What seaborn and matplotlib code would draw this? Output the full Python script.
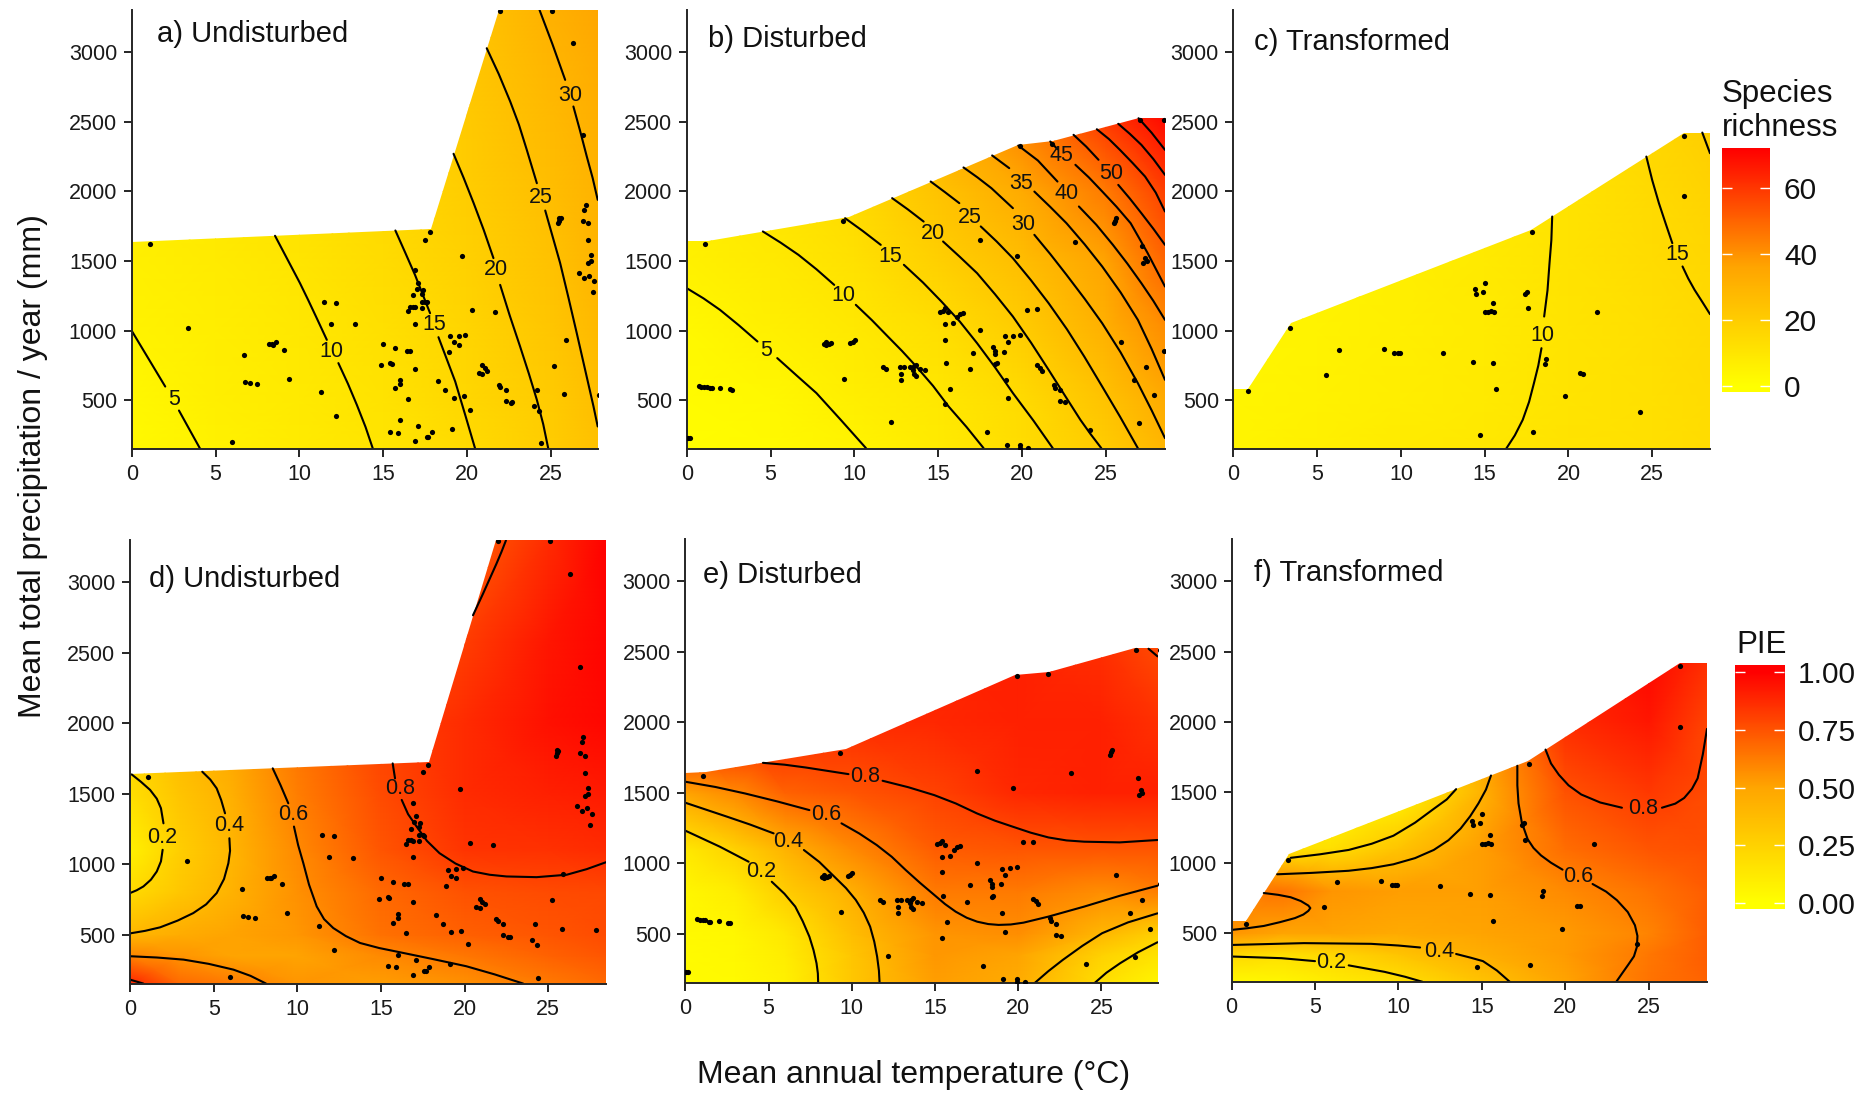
import numpy as np
import matplotlib
matplotlib.use('Agg')
import matplotlib.pyplot as plt
from matplotlib.colors import LinearSegmentedColormap
from matplotlib.patches import Polygon
import seaborn as sns

# Sites (same ones in both rows of a column)
undist_temp = [1.09,3.38,5.99,6.68,6.78,7.08,7.5,8.2,8.35,8.45,8.6,9.09,9.39,11.28,11.5,12.2,11.9,12.2,13.3,15.0,14.9,15.4,15.5,15.7,15.4,15.9,15.7,16.0,16.0,16.0,16.4,16.6,16.5,16.9,16.9,17.1,17.6,17.7,17.9,16.9,16.5,16.6,16.8,16.9,17.3,17.3,17.5,17.6,16.8,17.0,17.35,17.1,17.3,16.9,17.5,17.8,19.7,20.3,21.7,19.0,19.5,19.9,19.2,19.5,18.9,18.3,18.7,19.2,19.8,20.2,19.1,20.7,20.9,20.9,21.05,21.2,21.9,22.0,22.3,22.3,22.6,22.7,24.0,24.2,24.3,24.4,25.2,25.8,25.9,25.45,25.5,25.6,25.5,26.9,27.2,27.2,27.0,27.1,27.4,27.2,27.4,26.7,27.0,27.3,27.6,27.5,26.9,26.3,25.1,22.0,27.85]
undist_prec = [1621,1023,201,823,634,624,617,904,904,899,916,861,653,560,1207,1200,1050,388,1045,904,751,770,760,875,275,268,586,646,617,359,858,858,512,729,211,318,240,240,271,1050,1140,1172,1172,1167,1162,1207,1207,1203,1253,1296,1289,1341,1265,1434,1654,1705,1533,1150,1136,961,964,973,916,899,847,639,576,519,529,431,292,694,691,751,734,715,612,596,576,495,483,486,459,574,424,196,746,543,933,1771,1790,1805,1807,1790,1771,1650,1865,1901,1540,1485,1497,1411,1380,1396,1356,1279,2402,3060,3290,3296,536]

dist_temp = [1.07,0.17,0.06,0.7,0.87,1.04,1.2,1.4,1.5,2.0,2.55,2.7,8.2,8.33,8.5,8.6,8.33,9.77,9.9,10.04,9.38,9.3,11.7,11.9,12.2,12.7,12.8,12.8,12.96,13.3,13.55,13.7,13.5,13.55,13.67,13.9,14.2,15.4,15.4,15.4,15.5,15.7,15.1,15.3,15.4,15.6,15.9,16.15,16.3,16.5,16.9,17.1,17.5,17.5,17.9,18.3,18.4,18.4,18.4,18.5,18.95,19.04,19.0,19.2,19.2,19.5,19.9,19.1,19.9,19.9,20.4,19.7,20.3,20.9,20.9,21.07,21.2,19.9,21.8,21.9,22.0,22.3,22.3,22.6,23.2,24.1,25.5,25.57,25.63,25.9,26.7,27.0,27.06,27.2,27.25,27.36,27.46,27.44,27.9,28.5,28.5]
dist_prec = [1621,228,228,603,600,600,596,588,586,593,581,576,904,897,902,911,916,909,918,933,653,1786,741,727,345,739,691,648,739,739,744,756,720,691,677,725,720,474,1045,937,768,584,1138,1143,1162,1131,1054,1098,1119,1126,729,844,1004,1654,273,882,856,830,763,772,851,648,961,916,517,966,973,182,182,158,158,1533,1150,1155,751,734,715,2328,2340,612,593,572,495,486,1640,290,1771,1790,1807,918,646,340,2510,1609,1485,1520,1497,739,536,856,2510]

trans_temp = [0.88,3.36,5.54,6.29,8.98,9.6,9.8,9.94,12.5,14.3,14.4,14.5,14.87,15.0,14.7,15.03,15.2,15.35,15.56,15.5,15.5,15.7,17.43,17.5,17.56,17.8,17.9,18.66,18.6,19.8,20.7,20.87,21.7,24.3,26.9,26.9]
trans_prec = [567,1023,684,863,870,839,839,839,837,775,1298,1265,1279,1346,256,1136,1136,1140,1131,1198,772,584,1265,1281,1160,1705,273,801,765,531,694,691,1136,421,2400,1963]

# Outline of the sampled climate space
undist_hull = [(0,150),(0,1640),(17.86,1728),(21.9,3300),(28.6,3300),(28.6,150)]
dist_hull = [(0,150),(0,1642),(1.24,1647),(9.66,1814),(19.8,2333),(21.85,2359),(27,2524),(28.6,2524),(28.6,150)]
trans_hull = [(0,150),(0,584),(0.88,584),(3.46,1059),(17.75,1724),(26.87,2421),(28.6,2421),(28.6,150)]

# Surface: rows go with the precipitation grid, columns with the temperature grid
rich_t = [0,5,10,15,20,25,28.6]
rich_p = [150,500,1000,1500,2000,2600,3300]
rich_a = [[2.5,5.5,8,10.5,14.5,20.2,26],
          [3,6.2,8.5,11,15.8,21,27],
          [5,7,9,12.5,17,23,29],
          [6,8,10.5,13.8,18.3,24.3,31],
          [7,9,12,15,20,26,31.5],
          [8,10,13,16,21.5,28,33],
          [9,11,14,18,23,31,36]]
rich_b = [[1,2,4.5,8,13.5,20.5,29],
          [1.5,3,6.5,9.3,14.6,24,33.5],
          [3,6,8.8,13,20,31,41],
          [5.8,8.5,12,19,26,36,50],
          [7,10,15,24,33.5,45,58],
          [8,12,18,29,45,62,75]]
rich_c = [[4,6,8,9.5,11,12.5,14],
          [4,5.5,7,8.5,10.7,12.5,14],
          [4,5,6.5,8.3,10.8,13,14.7],
          [4,5,6.5,8.5,11,13.8,16],
          [4,5,6.5,8.5,11.5,15,17.5],
          [4,5,6.5,8.5,12,16.5,20.5]]

pie_t = [0,3,6,10,15,20,25,28.6]
pie_p = [150,350,500,800,1100,1500,2000,2600,3300]
pie_d = [[.9,.68,.63,.55,.52,.56,.63,.68],
         [.6,.55,.5,.5,.58,.64,.7,.74],
         [.4,.46,.5,.54,.66,.71,.74,.77],
         [.2,.32,.42,.56,.68,.75,.77,.78],
         [.08,.27,.4,.58,.74,.84,.85,.87],
         [.18,.33,.43,.62,.77,.87,.9,.92],
         [.25,.4,.5,.65,.8,.87,.95,.98],
         [.3,.4,.5,.6,.7,.81,.93,.99],
         [.3,.4,.5,.6,.65,.7,.87,1.0]]
pie_e = [[.02,.03,.08,.31,.52,.46,.18,.05],
         [.02,.04,.1,.32,.54,.5,.25,.15],
         [.03,.05,.13,.36,.55,.57,.4,.25],
         [.05,.1,.28,.44,.63,.63,.57,.62],
         [.13,.25,.42,.58,.72,.74,.74,.74],
         [.5,.58,.7,.74,.8,.88,.9,.9],
         [1.0,.95,.9,.87,.88,.9,.9,.85],
         [.9,.9,.9,.9,.9,.9,.85,.76]]
pie_f = [[.03,.05,.1,.17,.33,.5,.65,.7],
         [.22,.18,.22,.33,.45,.53,.64,.72],
         [.55,.5,.5,.47,.5,.53,.6,.72],
         [.6,.65,.55,.52,.52,.58,.65,.72],
         [.4,.15,.18,.33,.52,.67,.74,.76],
         [0,0,0,.05,.42,.75,.83,.77],
         [0,0,0,.05,.5,.87,.93,.79],
         [0,0,0,.05,.5,.9,1.0,.88]]

# Contour lines, cut where a label sits
lines_a = [[(0,1000),(1.0,800),(2.0,600)],[(2.82,428),(3.5,280),(4.1,150)],
           [(8.55,1681),(9.3,1510),(10.04,1341),(10.55,1215),(11.04,1090),(11.64,935)],[(12.33,768),(12.9,620),(13.43,469),(13.95,310),(14.4,150)],
           [(15.73,1719),(16.3,1565),(16.9,1401),(17.8,1126)],[(18.3,954),(18.8,795),(19.3,636),(19.9,395),(20.5,150)],
           [(19.2,2269),(19.8,2097),(20.4,1915),(21.0,1723),(21.58,1521)],[(21.98,1329),(22.55,1110),(23.17,887),(23.7,690),(24.17,505),(24.55,330),(24.86,150)],
           [(21.18,3026),(21.9,2840),(22.58,2644),(23.1,2478),(23.57,2297),(24.17,2058)],[(24.67,1862),(25.1,1680),(25.56,1485),(26.05,1240),(26.55,983),(27.05,720),(27.55,457),(27.8,314)],
           [(24.33,3300),(25.1,3055),(25.86,2799)],[(26.35,2608),(26.75,2433),(27.15,2249),(27.5,2095),(27.8,1939)]]
labels_a = [('5',2.53,505),('10',11.94,851),('15',18.06,1043),('20',21.74,1437),('25',24.4,1958),('30',26.15,2684)]

lines_b = [[(0,1305),(1.0,1232),(1.98,1150),(3.1,1040),(4.22,923)],[(5.4,804),(6.55,680),(7.74,553),(9.2,360),(10.7,158)],
           [(4.54,1712),(5.6,1632),(6.67,1544),(7.75,1440),(8.8,1329)],[(10.09,1186),(11.05,1076),(12.0,959),(12.85,855),(13.7,744),(14.7,605),(15.63,457),(16.7,310),(17.72,158)],
           [(9.45,1807),(10.5,1716),(11.58,1616)],[(12.96,1473),(14.1,1346),(15.2,1210),(16.3,1066),(17.33,911),(18.4,738),(19.47,553),(20.7,355),(21.85,158)],
           [(12.26,1951),(13.2,1870),(14.14,1783)],[(15.3,1640),(16.3,1530),(17.33,1413),(18.4,1262),(19.47,1102),(20.55,915),(21.6,720),(22.55,540),(23.5,361),(24.1,260),(24.75,158)],
           [(14.56,2070),(15.4,1995),(16.27,1915)],[(17.55,1748),(18.5,1640),(19.47,1520),(20.55,1362),(21.6,1198),(22.7,1010),(23.73,815),(24.8,600),(25.86,385),(26.93,158)],
           [(16.52,2171),(17.35,2100),(18.19,2022),(19.47,1879)],[(20.75,1688),(21.7,1550),(22.67,1401),(23.75,1230),(24.8,1054),(25.9,845),(26.93,624),(27.75,430),(28.55,230)],
           [(18.23,2257),(19.25,2166)],[(20.75,1998),(21.7,1888),(22.67,1771),(23.75,1620),(24.8,1461),(25.9,1275),(26.93,1078),(27.75,870),(28.55,648)],
           [(19.79,2328),(20.96,2221),(22.13,2070)],[(23.41,1891),(24.45,1760),(25.44,1616),(26.3,1482),(27.14,1341),(27.85,1215),(28.55,1078)],
           [(21.7,2357),(22.13,2302)],[(23.2,2190),(24.0,2100),(24.8,1999),(25.65,1890),(26.5,1771),(27.5,1560),(28.55,1317)],
           [(23.09,2405),(23.85,2320),(24.58,2226)],[(25.76,2046),(26.45,1948),(27.14,1843),(27.85,1732),(28.55,1616)],
           [(24.48,2445),(25.2,2375),(25.86,2297),(26.6,2205),(27.36,2106),(28,1990),(28.55,1855)],
           [(25.76,2484),(26.45,2412),(27.14,2333),(27.85,2232),(28.55,2118)],
           [(26.97,2524),(27.75,2420),(28.55,2297)]]
labels_b = [('5',4.75,858),('10',9.34,1250),('15',12.17,1532),('20',14.67,1700),('25',16.9,1815),('30',20.06,1760),
            ('35',19.94,2054),('40',22.67,1987),('45',22.39,2254),('50',25.33,2130)]

lines_c = [[(19.03,1819),(18.98,1650),(18.87,1485),(18.75,1290),(18.55,1102)],[(18.39,875),(18.2,750),(17.94,624),(17.65,490),(17.27,361),(16.8,250),(16.26,150)],
           [(24.65,2249),(25.0,2080),(25.4,1915),(25.8,1770),(26.2,1628)],[(26.81,1461),(27.15,1375),(27.53,1293),(28.0,1205),(28.45,1119)],
           [(27.99,2421),(28.45,2273)]]
labels_c = [('10',18.47,964),('15',26.47,1544)]

lines_d = [[(0.1,1637),(0.65,1585),(1.2,1527),(1.6,1465),(1.85,1397),(2.0,1290)],[(1.95,1102),(1.85,1020),(1.6,948),(1.25,890),(0.8,842),(0.4,815),(0,795)],
           [(4.32,1656),(4.8,1600),(5.18,1538),(5.45,1455),(5.68,1361)],[(5.94,1184),(5.98,1095),(5.88,1007),(5.62,895),(5.18,795),(4.55,715),(3.78,653),(2.85,600),(1.8,552),(0.9,527),(0,509)],
           [(8.53,1680),(9.0,1560),(9.46,1432)],[(9.8,1267),(10.05,1135),(10.36,1007),(10.7,855),(11.16,700),(11.6,610),(12.15,547),(12.9,490),(13.75,441),(14.9,405),(16.14,375),(18.1,327),(20.1,276),(21.8,218),(23.5,153)],
           [(0,347),(1.6,338),(3.2,323),(4.7,293),(6.18,252),(7.2,208),(8.13,153)],
           [(0,181),(0.8,153)],
           [(15.7,1715),(15.84,1609)],[(16.24,1456),(16.62,1355),(17.13,1267),(17.75,1165),(18.5,1078),(19.45,1005),(20.5,948),(21.5,925),(22.5,913),(24.3,908),(26.1,925),(27.3,965),(28.45,1014)],
           [(22.47,3297),(22.2,3215),(21.9,3131),(21.5,3025),(21.1,2919),(20.5,2766)]]
labels_d = [('0.2',1.93,1189),('0.4',5.94,1274),('0.6',9.76,1350),('0.8',16.17,1534)]

lines_e = [[(4.66,1713),(5.95,1700),(7.23,1680),(9.8,1633)],[(11.85,1586),(13.4,1540),(14.96,1484),(16.25,1425),(17.53,1354),(18.6,1303),(19.68,1260),(20.75,1218),(21.82,1184),(22.9,1163),(23.97,1154),(26.1,1149),(28.37,1166)],
           [(0,1579),(1.8,1542),(3.58,1496),(5.5,1440),(7.45,1378)],[(9.38,1284),(10.45,1212),(11.5,1130),(12.4,1047),(13.24,953),(14.1,862),(14.96,776),(15.6,712),(16.24,658),(16.9,615),(17.53,587),(18.2,570),(18.82,564),(19.55,567),(20.32,580),(21.82,623),(23.97,694),(26.12,771),(28.37,842)],
           [(0,1430),(2.51,1331),(3.9,1275),(5.3,1213)],[(7.12,1095),(8.05,1010),(8.95,906),(9.65,825),(10.24,741),(10.72,650),(11.1,552),(11.35,445),(11.52,340),(11.63,240),(11.67,150)],
           [(0,1232),(2.08,1118),(3.8,1012)],[(5.19,870),(5.95,785),(6.6,694),(7.05,590),(7.45,481),(7.7,385),(7.88,292),(7.96,220),(7.98,150)],
           [(20.97,150),(21.8,235),(22.68,316),(23.85,415),(25.04,505),(26.6,582),(28.37,646)],
           [(24.57,150),(25.3,225),(26.12,292),(27.2,370),(28.37,441)],
           [(27.83,2522),(28.37,2468)]]
labels_e = [('0.8',10.82,1619),('0.6',8.48,1347),('0.4',6.2,1154),('0.2',4.55,941)]

lines_f = [[(18.82,1804),(19.15,1705),(19.62,1625),(20.2,1550),(20.96,1485),(22.1,1428),(23.4,1391)],[(25.8,1391),(26.6,1420),(27.13,1460),(27.6,1525),(27.94,1600),(28.25,1770),(28.5,1951)],
           [(17.13,1689),(17.13,1550),(17.2,1422),(17.4,1285),(17.75,1167),(18.1,1105),(18.55,1052),(19.15,1000),(19.84,951)],[(21.64,849),(22.45,795),(23.1,734),(23.75,650),(24.18,556),(24.33,480),(24.3,403),(24.12,335),(23.78,276),(23.4,212),(23.06,154)],
           [(15.55,1620),(15.25,1520),(14.8,1422),(14.3,1330),(13.73,1243),(13.0,1160),(12.12,1091),(11.0,1033),(9.7,989),(8.4,962),(7.02,943),(4.8,928),(2.73,918)],
           [(13.46,1523),(12.9,1450),(12.12,1383),(11.0,1285),(9.7,1192),(8.4,1135),(7.02,1091),(5.3,1060),(3.54,1035)],
           [(1.93,785),(2.8,772),(3.54,755),(4.15,728),(4.6,696),(4.72,678),(4.6,658),(4.3,632),(3.8,607),(2.9,578),(1.93,551),(0.95,535),(0,523)],
           [(0,416),(4.34,429),(8.36,424),(10,412),(11.3,398)],[(13.46,352),(14.35,325),(15.07,301),(15.9,235),(16.68,154)],
           [(0,334),(3.0,322),(5.0,301)],[(7.02,271),(9.17,225),(10.4,190),(11.45,154)]]
labels_f = [('0.8',24.66,1383),('0.6',20.75,900),('0.4',12.47,373),('0.2',6.0,289)]

x_ticks = [0,5,10,15,20,25]
y_ticks = [500,1000,1500,2000,2500,3000]
rich_ticks = [0,20,40,60]
pie_ticks = [0.0,0.25,0.5,0.75,1.0]

W, H = 1873, 1093
sns.set_theme(style='ticks')
plt.rcParams['font.family'] = ['Liberation Sans', 'DejaVu Sans']
cmap = LinearSegmentedColormap.from_list('richness', ['#FFFF00', '#FFA500', '#FF0000'])

fig = plt.figure(figsize=(W/100, H/100), dpi=100, facecolor='white')


def box(l, t, r, b):
    return fig.add_axes([l/W, 1-b/H, (r-l)/W, (b-t)/H])


def panel(pos, xmax, hull, grid_t, grid_p, z, zmax, temp, prec, lines, labels, title, title_xy):
    ax = box(*pos)
    z = np.array(z)
    mesh = ax.pcolormesh(grid_t, grid_p[:z.shape[0]], z, shading='gouraud', cmap=cmap, vmin=0, vmax=zmax)
    mesh.set_clip_path(Polygon(hull, transform=ax.transData))
    for seg in lines:
        sns.lineplot(x=[p[0] for p in seg], y=[p[1] for p in seg], sort=False, estimator=None,
                     color='black', linewidth=1.5, ax=ax, legend=False)
    sns.scatterplot(x=temp, y=prec, s=14, color='black', linewidth=0, ax=ax, legend=False, zorder=3)
    for txt, x, y in labels:
        ax.text(x, y, txt, fontsize=15.5, ha='center', va='center', color='#111111', zorder=4)
    ax.set_xlim(0, xmax)
    ax.set_ylim(150, 3300)
    ax.set_xticks(x_ticks)
    ax.set_yticks(y_ticks)
    ax.tick_params(length=5.5, width=1.2, labelsize=15.5, color='black', labelcolor='#1a1a1a', pad=5)
    sns.despine(ax=ax)
    ax.spines['left'].set_linewidth(1.4)
    ax.spines['bottom'].set_linewidth(1.4)
    fig.text(title_xy[0]/W, 1-title_xy[1]/H, title, fontsize=21, va='baseline', color='#111111')


panel((131.7,10,597.7,449.3), 27.8, undist_hull, rich_t, rich_p, rich_a, 72, undist_temp, undist_prec, lines_a, labels_a, 'a) Undisturbed', (156.7,41.7))
panel((686.8,10,1165,449.3), 28.55, dist_hull, rich_t, rich_p, rich_b, 72, dist_temp, dist_prec, lines_b, labels_b, 'b) Disturbed', (707.5,46.7))
panel((1233.4,10,1710,449.3), 28.45, trans_hull, rich_t, rich_p, rich_c, 72, trans_temp, trans_prec, lines_c, labels_c, 'c) Transformed', (1253.5,50))
panel((130,540,606,984), 28.45, undist_hull, pie_t, pie_p, pie_d, 1, undist_temp, undist_prec, lines_d, labels_d, 'd) Undisturbed', (149,587.3))
panel((685.4,539,1157.5,983.3), 28.37, dist_hull, pie_t, pie_p, pie_e, 1, dist_temp, dist_prec, lines_e, labels_e, 'e) Disturbed', (703,583))
panel((1231.6,539,1707,982.4), 28.5, trans_hull, pie_t, pie_p, pie_f, 1, trans_temp, trans_prec, lines_f, labels_f, 'f) Transformed', (1254,581))


def colourbar(pos, lo, hi, vmax, ticks, fmt):
    cax = box(*pos)
    cax.imshow(np.linspace(hi, lo, 256).reshape(-1, 1), aspect='auto', cmap=cmap, vmin=0, vmax=vmax,
               extent=[0, 1, lo, hi])
    cax.set_xticks([])
    cax.set_yticks(ticks)
    cax.set_yticklabels([fmt % t for t in ticks])
    cax.tick_params(axis='y', left=True, right=True, labelleft=False, labelright=True, direction='in',
                    color='white', width=1.0, length=7, labelsize=21.5, pad=10, labelcolor='#111111')
    sns.despine(ax=cax, left=True, bottom=True)
    cax.spines['right'].set_visible(False)


colourbar((1722,148,1770,391.7), -1.7, 72, 72, rich_ticks, '%d')
colourbar((1734.7,664.6,1783.8,909.5), -0.026, 1.03, 1, pie_ticks, '%.2f')

fig.text(1722/W, 1-101.7/H, 'Species', fontsize=22.5, va='baseline', color='#111111')
fig.text(1722/W, 1-136/H, 'richness', fontsize=22.5, va='baseline', color='#111111')
fig.text(1736/W, 1-652.8/H, 'PIE', fontsize=22.5, va='baseline', color='#111111')
fig.text(914/W, 1-1083/H, 'Mean annual temperature (°C)', fontsize=23, ha='center', va='baseline', color='#111111')
fig.text(33/W, 1-466/H, 'Mean total precipitation / year (mm)', fontsize=23, rotation=90, ha='center', va='center', color='#111111')

fig.savefig('out.png', dpi=100)
